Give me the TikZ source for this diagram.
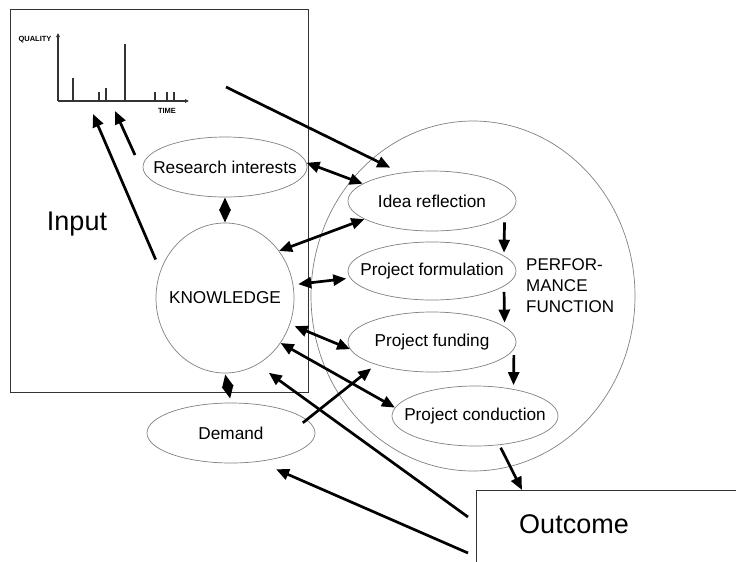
\documentclass[tikz,border=0pt]{standalone}
\usepackage{fontspec}
\setmainfont{Liberation Sans}
\usetikzlibrary{arrows.meta,shapes.geometric,calc}
% label of zero width, so the ellipse keeps the size it is given
\newcommand\zerowd[1]{\makebox[0pt][c]{#1}}
\begin{document}
\begin{tikzpicture}[x=1pt,y=-1pt,
  bubble/.style={draw=black!50, line width=0.7pt, ellipse, inner sep=0pt,
                 font=\fontsize{17.2}{20}\selectfont},
  frame/.style={draw=black!80, line width=0.9pt},
  bigtext/.style={font=\fontsize{27}{32}\selectfont},
  axislabel/.style={font=\bfseries\fontsize{7.5}{9}\selectfont, inner sep=0pt},
  chart/.style={draw=black!80, line width=1.4pt},
  tip/.tip={Triangle[length=13pt,width=11pt]},
  arr/.style={line width=2.7pt, -tip},
  darr/.style={line width=2.7pt, tip-tip},
]
\useasboundingbox (0,0) rectangle (736,562);

% input frame with the quality/time chart
\node[frame, anchor=north west, minimum width=298pt, minimum height=383pt, inner sep=0pt]
  (inbox) at (10,9) {};
\node[bigtext] (input) at (77,224) {Input};

\coordinate (origin) at (58,101);
\draw[chart, -{Triangle[length=4pt,width=3.5pt]}] (origin) -- (58,33);
\draw[chart, -{Triangle[length=4pt,width=3.5pt]}] (origin) -- (189,101);
\foreach \x/\t in {73/78,99/92,106/88,125/44,155/92,167/92,174/92}
  \draw[chart] (\x,101) -- (\x,\t);
\node[axislabel] (quality) at (35,40) {QUALITY};
\node[axislabel] (time) at (167,111) {TIME};

% performance function
\node[draw=black!50, line width=0.7pt, ellipse, minimum width=324pt, minimum height=350pt]
  (pf) at (473,296) {};
\node[anchor=west, align=left, inner sep=0pt, font=\fontsize{17}{21}\selectfont]
  (perf) at (526,286) {PERFOR-\\MANCE\\FUNCTION};

\node[bubble, minimum width=164pt, minimum height=60pt] (research) at (225,167) {\zerowd{Research interests}};
\node[bubble, minimum width=138pt, minimum height=150pt] (knowledge) at (225,298) {\zerowd{KNOWLEDGE}};
\node[bubble, minimum width=168pt, minimum height=60pt] (demand) at (231,433) {\zerowd{Demand}};

\node[bubble, minimum width=168pt, minimum height=60pt] (idea) at (432,201) {\zerowd{Idea reflection}};
\node[bubble, minimum width=168pt, minimum height=58pt] (formulation) at (432,271) {\zerowd{Project formulation}};
\node[bubble, minimum width=168pt, minimum height=60pt] (funding) at (432,342) {\zerowd{Project funding}};
\node[bubble, minimum width=166pt, minimum height=60pt] (conduction) at (475,416) {\zerowd{Project conduction}};

% outcome frame
\node[frame, anchor=north west, minimum width=280pt, minimum height=90pt, inner sep=0pt]
  (outbox) at (476,490) {};
\node[bigtext] (outcome) at (574,524) {Outcome};

% free ends of connectors
\coordinate (chartout) at (226,87);
\coordinate (tipA) at (93,114);
\coordinate (tipB) at (115,111);
\coordinate (riout) at (135,155);
\coordinate (o1) at (468,517);
\coordinate (o2) at (468,553);

% connectors
\draw[arr, shorten >=11.7pt] (chartout) -- (idea.138.6);
\draw[arr] (riout) -- (tipB);
\draw[arr, shorten <=12pt] (knowledge.157.2) -- (tipA);

\draw[darr] (research.south) -- (knowledge.north);
\draw[darr, shorten <=1pt, shorten >=4pt] (knowledge.south) -- (demand.north);

\draw[darr] (research.3) -- (idea.166);
\draw[darr] (knowledge.41) -- (idea.195);
\draw[darr, shorten <=5pt, shorten >=4pt] (knowledge.11) -- (formulation.185);
\draw[darr, shorten <=5pt] (knowledge.-22.5) -- (funding.185);
\draw[darr] (knowledge.-39.5) -- (conduction.174);
\draw[arr, shorten <=-5pt, shorten >=6pt] (demand.10) -- (funding.202);

\draw[arr, shorten <=6pt, shorten >=3pt] (idea.-12.7) -- (formulation.12.3);
\draw[arr, shorten <=5.5pt, shorten >=4pt] (formulation.-12.3) -- (funding.12.7);
\draw[arr, shorten <=6pt, shorten >=4pt] (funding.-5.6) -- (conduction.35.1);
\draw[arr, shorten <=3pt] (conduction.-50) -- ($(outbox.north west)+(46,0)$);

\draw[arr, shorten >=14pt] (o1) -- (knowledge.-64.6);
\draw[arr, shorten >=19pt] (o2) -- (demand.-46.9);
\end{tikzpicture}
\end{document}
